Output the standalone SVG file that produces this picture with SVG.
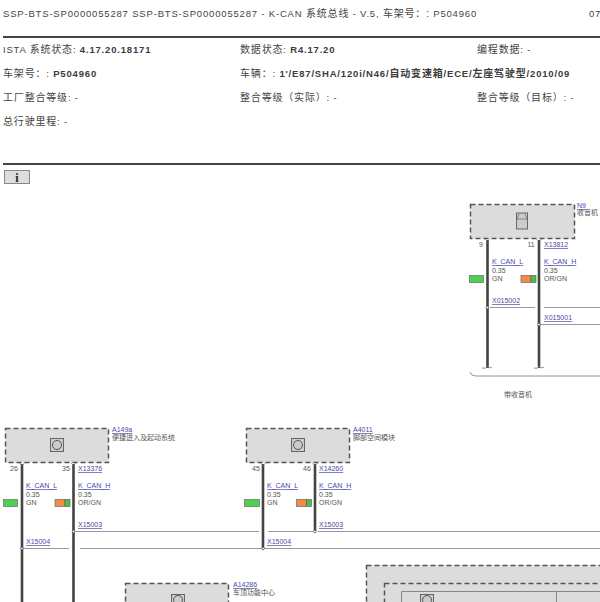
<svg xmlns="http://www.w3.org/2000/svg" width="600" height="602" viewBox="0 0 600 602">
<style>
text{font-family:"Liberation Sans","Noto Sans CJK SC",sans-serif;fill:#444}
.h{font-size:9.5px;letter-spacing:.82px}
.c{font-size:10px}
.b{font-weight:bold;fill:#3c3c3c}
.s{font-size:7px;fill:#555}
.l{font-size:7px;fill:#4a4aa8;text-decoration:underline}
.rule{stroke:#444;stroke-width:2;fill:none}
.box{fill:#dcdcdc;stroke:#555;stroke-width:1.500;stroke-dasharray:5 3}
.wire{stroke:#444;stroke-width:2.600;fill:none}
.bus{stroke:#999;stroke-width:1;fill:none}
.ic{fill:#ccc;stroke:#666;stroke-width:1}
.dot{fill:#fff;stroke:#444;stroke-width:.7}
.g{fill:#4fd04f;stroke:#777;stroke-width:.8}
.o{fill:#f58c46;stroke:#777;stroke-width:.8}
.g2{fill:#4fc04f;stroke:#555;stroke-width:.6}
.notch{fill:none;stroke:#777;stroke-width:.7}
</style>
<rect width="600" height="602" fill="#fff"/>
<g id="header">
<text class="h" x="3" y="17">SSP-BTS-SP0000055287  SSP-BTS-SP0000055287 - K-CAN <tspan class="c">系统总线</tspan> - V.5, <tspan class="c">车架号：:</tspan> P504960</text>
<text class="h" x="589" y="17">07</text>
<path class="rule" d="M3 37H600M3 164H600"/>
<text class="h" x="3" y="53">ISTA <tspan class="c">系统状态</tspan>: <tspan class="b">4.17.20.18171</tspan></text>
<text class="h" x="240" y="53"><tspan class="c">数据状态</tspan>: <tspan class="b">R4.17.20</tspan></text>
<text class="h" x="477" y="53"><tspan class="c">编程数据</tspan>: -</text>
<text class="h" x="3" y="77"><tspan class="c">车架号：</tspan>: <tspan class="b">P504960</tspan></text>
<text class="h" x="240" y="77"><tspan class="c">车辆：</tspan>: <tspan class="b">1'/E87/SHA/120i/N46/<tspan class="c">自动变速箱</tspan>/ECE/<tspan class="c">左座驾驶型</tspan>/2010/09</tspan></text>
<text class="h" x="3" y="101"><tspan class="c">工厂整合等级</tspan>: -</text>
<text class="h" x="240" y="101"><tspan class="c">整合等级（实际）</tspan>: -</text>
<text class="h" x="477" y="101"><tspan class="c">整合等级（目标）</tspan>: -</text>
<text class="h" x="3" y="125"><tspan class="c">总行驶里程</tspan>: -</text>
<rect x="4.500" y="170.500" width="25" height="13" fill="#ddd" stroke="#888"/>
<text x="17" y="181.500" text-anchor="middle" style="font-family:'Liberation Serif',serif;font-size:12px;font-weight:bold;fill:#222">i</text>
</g>
<g id="connectors">
<path class="bus" d="M490 307.500H535M544 307.500H600M539 324.500H600"/>
<path class="bus" d="M73.500 531.500H259M268 531.500H313M318 531.500H600M22 548.500H69M80 548.500H600"/>
<path class="wire" d="M487.500 240V368M539 240V368"/>
<path class="wire" d="M22 464V602M73.500 464V602"/>
<path class="wire" d="M263 464V548M315 464V531"/>
<path class="notch" d="M485 239L487.500 241.500L490 239M536.500 239L539 241.500L541.500 239M19.500 463L22 465.500L24.500 463M71 463L73.500 465.500L76 463M260.500 463L263 465.500L265.500 463M312.500 463L315 465.500L317.500 463"/>
<path fill="none" stroke="#777" stroke-width=".8" d="M482 368Q487 369 487.500 366Q488 369 492 367M534 368Q539 369 539 366Q540 369 544 367M470 372Q471 376 476 376H600"/>
<circle class="dot" cx="487.500" cy="307.500" r="1.300"/><circle class="dot" cx="539" cy="324.500" r="1.300"/>
<circle class="dot" cx="73.500" cy="531.500" r="1.300"/><circle class="dot" cx="22" cy="548.500" r="1.300"/>
<circle class="dot" cx="315" cy="531.500" r="1.300"/><circle class="dot" cx="263" cy="548.500" r="1.300"/>
</g>
<g id="N9">
<rect class="box" x="470.500" y="204.500" width="104" height="34"/>
<rect class="ic" x="516.500" y="213" width="11" height="16"/><path fill="none" stroke="#666" stroke-width=".7" d="M517 219L519 214M527 219L525 214M517 219H527"/>
<text class="l" x="577" y="208">N9</text><text class="s" x="577" y="215">收音机</text>
<text class="s" x="479" y="247">9</text><text class="s" x="527.500" y="247">11</text>
<text class="l" x="544" y="247">X13812</text>
<text class="l" x="492" y="264">K_CAN_L</text><text class="s" x="492" y="273">0.35</text><text class="s" x="492" y="281">GN</text>
<rect class="g" x="469.500" y="275.500" width="14" height="7"/>
<text class="l" x="544" y="264">K_CAN_H</text><text class="s" x="544" y="273">0.35</text><text class="s" x="544" y="281">OR/GN</text>
<rect class="o" x="521" y="275.500" width="10" height="7"/><rect class="g2" x="531" y="275.500" width="5" height="7"/>
<text class="l" x="492" y="303">X015002</text><text class="l" x="544" y="320">X015001</text>
<text class="s" x="504" y="397">带收音机</text>
</g>
<g id="A149a">
<rect class="box" x="5.500" y="428.500" width="103" height="34"/>
<rect class="ic" x="50.500" y="438.500" width="13" height="13"/><circle cx="57" cy="445" r="4.500" fill="none" stroke="#555"/>
<text class="l" x="112" y="432">A149a</text><text class="s" x="112" y="440">便捷进入及起动系统</text>
<text class="s" x="10" y="471">26</text><text class="s" x="62" y="471">35</text>
<text class="l" x="78" y="471">X13376</text>
<text class="l" x="26" y="488">K_CAN_L</text><text class="s" x="26" y="497">0.35</text><text class="s" x="26" y="505">GN</text>
<rect class="g" x="3.500" y="499.500" width="14" height="7"/>
<text class="l" x="78" y="488">K_CAN_H</text><text class="s" x="78" y="497">0.35</text><text class="s" x="78" y="505">OR/GN</text>
<rect class="o" x="55" y="499.500" width="10" height="7"/><rect class="g2" x="65" y="499.500" width="5" height="7"/>
<text class="l" x="78" y="527">X15003</text><text class="l" x="26" y="544">X15004</text>
</g>
<g id="A4011">
<rect class="box" x="246.500" y="428.500" width="103" height="34"/>
<rect class="ic" x="291.500" y="438.500" width="13" height="13"/><circle cx="298" cy="445" r="4.500" fill="none" stroke="#555"/>
<text class="l" x="353" y="432">A4011</text><text class="s" x="353" y="440">脚部空间模块</text>
<text class="s" x="252" y="471">45</text><text class="s" x="303" y="471">46</text>
<text class="l" x="319" y="471">X14260</text>
<text class="l" x="267" y="488">K_CAN_L</text><text class="s" x="267" y="497">0.35</text><text class="s" x="267" y="505">GN</text>
<rect class="g" x="244.500" y="499.500" width="15" height="7"/>
<text class="l" x="319" y="488">K_CAN_H</text><text class="s" x="319" y="497">0.35</text><text class="s" x="319" y="505">OR/GN</text>
<rect class="o" x="296.500" y="499.500" width="10" height="7"/><rect class="g2" x="306.500" y="499.500" width="5" height="7"/>
<text class="l" x="319" y="527">X15003</text><text class="l" x="267" y="544">X15004</text>
</g>
<g id="A14286">
<rect class="box" x="125.500" y="583.500" width="103" height="34"/>
<rect class="ic" x="171.500" y="594.500" width="13" height="13"/><circle cx="178" cy="600" r="4.500" fill="none" stroke="#555"/>
<text class="l" x="233" y="587">A14286</text><text class="s" x="233" y="595">车顶功能中心</text>
</g>
<g id="module">
<rect class="box" x="366.500" y="565.500" width="250" height="60"/>
<rect class="box" x="384.500" y="583.500" width="230" height="40"/>
<path fill="none" stroke="#888" d="M401.500 602V591.500H600M556.500 591V602"/>
<rect class="ic" x="420.500" y="594.500" width="13" height="13"/><circle cx="427" cy="600" r="4.500" fill="none" stroke="#555"/>
</g>
</svg>
